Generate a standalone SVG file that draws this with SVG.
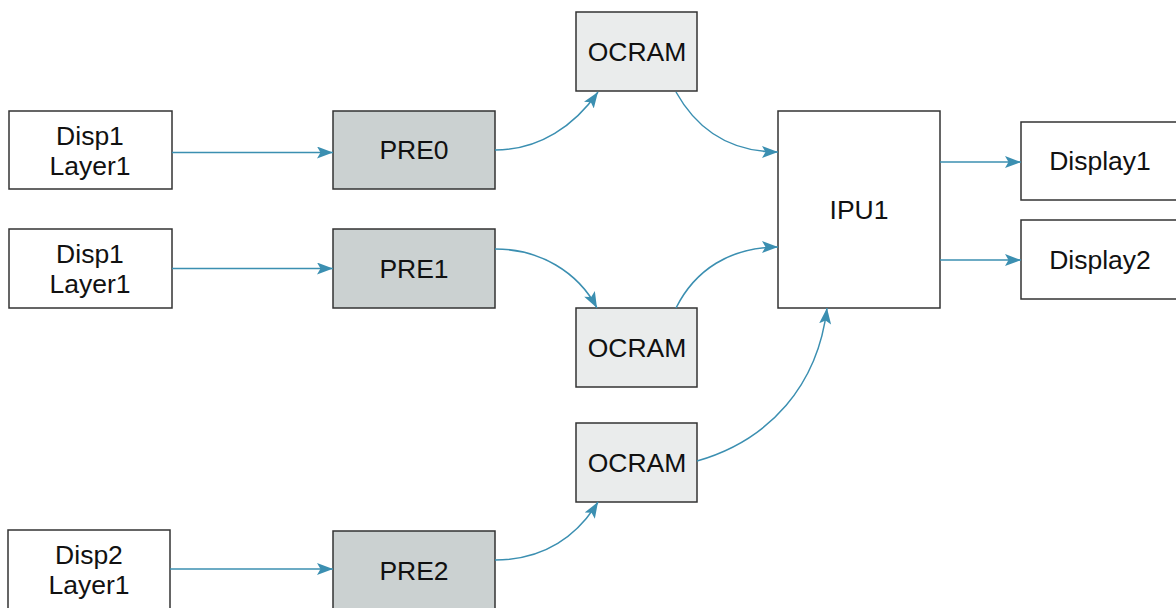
<svg xmlns="http://www.w3.org/2000/svg" width="1176" height="608" viewBox="0 0 1176 608">
<style>
.box{stroke:#333;stroke-width:1.5}
.w{fill:#fff}
.pre{fill:#cbd1d1}
.oc{fill:#eaecec}
.t{font-family:"Liberation Sans",Arial,sans-serif;font-size:26.5px;fill:#111;text-anchor:middle}
.c{fill:none;stroke:#3b8fb1;stroke-width:1.5}
</style>
<defs>
<marker id="ah" markerUnits="userSpaceOnUse" markerWidth="18" markerHeight="14" refX="16" refY="6" orient="auto">
<path d="M0,0 L16,6 L0,12 L3.5,6 z" fill="#3b8fb1"/>
</marker>
</defs>
<rect width="1176" height="608" fill="#fff"/>
<g id="disp1a"><rect class="box w" x="9" y="111" width="163" height="78"/><text class="t" x="90" y="145">Disp1</text><text class="t" x="90" y="175">Layer1</text></g>
<g id="disp1b"><rect class="box w" x="9" y="229" width="163" height="79"/><text class="t" x="90" y="263">Disp1</text><text class="t" x="90" y="293">Layer1</text></g>
<g id="disp2"><rect class="box w" x="8" y="530" width="162" height="90"/><text class="t" x="89" y="564">Disp2</text><text class="t" x="89" y="594">Layer1</text></g>
<g id="pre0"><rect class="box pre" x="333" y="111" width="162" height="78"/><text class="t" x="414" y="159">PRE0</text></g>
<g id="pre1"><rect class="box pre" x="333" y="229" width="162" height="79"/><text class="t" x="414" y="278">PRE1</text></g>
<g id="pre2"><rect class="box pre" x="333" y="531" width="162" height="90"/><text class="t" x="414" y="580">PRE2</text></g>
<g id="ocram0"><rect class="box oc" x="576" y="12" width="121" height="79"/><text class="t" x="637" y="61">OCRAM</text></g>
<g id="ocram1"><rect class="box oc" x="576" y="308" width="121" height="79"/><text class="t" x="637" y="357">OCRAM</text></g>
<g id="ocram2"><rect class="box oc" x="576" y="423" width="121" height="79"/><text class="t" x="637" y="472">OCRAM</text></g>
<g id="ipu1"><rect class="box w" x="778" y="111" width="162" height="197"/><text class="t" x="859" y="219">IPU1</text></g>
<g id="display1"><rect class="box w" x="1021" y="122" width="160" height="78"/><text class="t" x="1100" y="170">Display1</text></g>
<g id="display2"><rect class="box w" x="1021" y="220" width="160" height="79"/><text class="t" x="1100" y="269">Display2</text></g>
<g id="connectors">
<path class="c" d="M172,152.5 L333,152.5" marker-end="url(#ah)"/>
<path class="c" d="M172,268.5 L333,268.5" marker-end="url(#ah)"/>
<path class="c" d="M170,569 L333,569" marker-end="url(#ah)"/>
<path class="c" d="M495,150 C540,150 575,125 598,92" marker-end="url(#ah)"/>
<path class="c" d="M676,92 C700,135 735,152 778,152" marker-end="url(#ah)"/>
<path class="c" d="M495,249 C540,249 578,272 597,308" marker-end="url(#ah)"/>
<path class="c" d="M676,308 C695,270 730,247 778,247" marker-end="url(#ah)"/>
<path class="c" d="M697,461 C770,440 818,385 827,308" marker-end="url(#ah)"/>
<path class="c" d="M495,560 C545,560 578,535 598,502" marker-end="url(#ah)"/>
<path class="c" d="M940,162 L1021,162" marker-end="url(#ah)"/>
<path class="c" d="M940,260 L1021,260" marker-end="url(#ah)"/>
</g>
</svg>
